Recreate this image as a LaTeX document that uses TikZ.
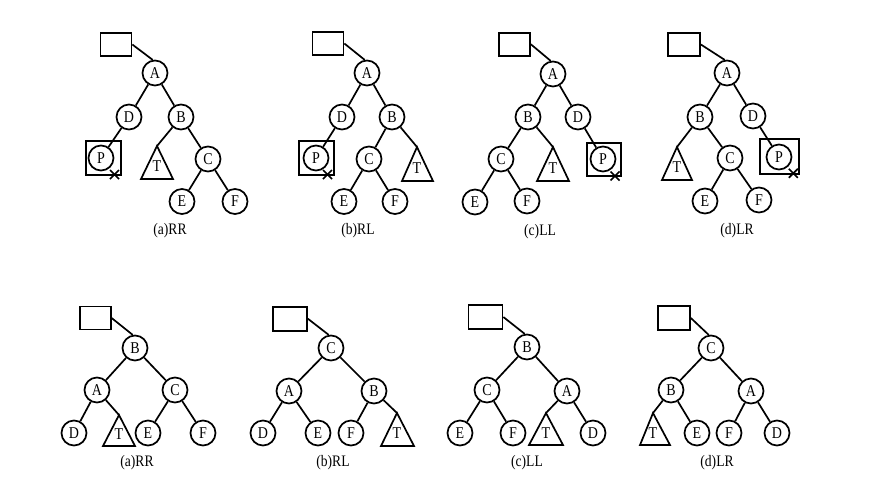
\documentclass[tikz,border=0pt]{standalone}
\usepackage{fontspec}
\setmainfont{Liberation Serif}
\newcommand{\narrowtxt}[1]{\scalebox{0.85}[1]{#1}}
\tikzset{
  nd/.style={circle,draw,line width=1.7pt,minimum size=25pt,inner sep=0pt,font=\fontsize{16.5}{16.5}\selectfont},
  rootbox/.style={rectangle,draw,line width=1.7pt,minimum width=31pt,minimum height=23pt,inner sep=0pt},
  pbox/.style={rectangle,draw,line width=1.7pt,inner sep=0pt},
  lnk/.style={line width=1.7pt},
  tri/.style={line width=1.7pt,line join=miter},
  tlabel/.style={font=\fontsize{16.5}{16.5}\selectfont,inner sep=0pt},
  captxt/.style={font=\fontsize{16}{16}\selectfont,inner sep=0pt},
}
\begin{document}
\begin{tikzpicture}[x=1pt,y=-1pt]
\useasboundingbox[fill=white] (0,0) rectangle (885,491);

% ---------- top (a) RR ----------
\node[rootbox] (a1r) at (116,44.5) {};
\node[nd] (a1A) at (155,73) {\narrowtxt{A}};
\node[nd] (a1D) at (129,117) {\narrowtxt{D}};
\node[nd] (a1B) at (181,117) {\narrowtxt{B}};
\node[nd] (a1P) at (101,158) {\narrowtxt{P}};
\node[pbox,minimum width=35pt,minimum height=34pt] (a1Pb) at (103.5,158) {};
\node[nd] (a1C) at (208,159) {\narrowtxt{C}};
\node[nd] (a1E) at (182,201.5) {\narrowtxt{E}};
\node[nd] (a1F) at (235,201.5) {\narrowtxt{F}};
\coordinate (a1Ta) at (157,146);
\draw[tri] (a1Ta) -- (173,179) -- (141,179) -- cycle;
\node[tlabel] (a1T) at (157,166.5) {\narrowtxt{T}};
\draw[lnk] (a1r.east) -- (a1A.100);
\draw[lnk] (a1A) -- (a1D);
\draw[lnk] (a1A) -- (a1B);
\draw[lnk] (a1D) -- (a1P);
\draw[lnk] (a1B) -- (a1Ta);
\draw[lnk] (a1B) -- (a1C);
\draw[lnk] (a1C) -- (a1E);
\draw[lnk] (a1C) -- (a1F);
\coordinate (a1x) at (114.5,174.5);
\draw[lnk] ([shift={(-4.5,-4.5)}]a1x) -- ([shift={(4.5,4.5)}]a1x);
\draw[lnk] ([shift={(-4.5,4.5)}]a1x) -- ([shift={(4.5,-4.5)}]a1x);
\node[captxt] (a1cap) at (170,231) {\narrowtxt{(a)RR}};

% ---------- top (b) RL ----------
\node[rootbox] (b1r) at (328,43.5) {};
\node[nd] (b1A) at (367,73) {\narrowtxt{A}};
\node[nd] (b1D) at (342,117) {\narrowtxt{D}};
\node[nd] (b1B) at (392,117) {\narrowtxt{B}};
\node[nd] (b1P) at (316,158) {\narrowtxt{P}};
\node[pbox,minimum width=35pt,minimum height=34pt] (b1Pb) at (316.5,158) {};
\node[nd] (b1C) at (369,159) {\narrowtxt{C}};
\node[nd] (b1E) at (344,201.5) {\narrowtxt{E}};
\node[nd] (b1F) at (395,201.5) {\narrowtxt{F}};
\coordinate (b1Ta) at (417,147);
\draw[tri] (b1Ta) -- (433,181) -- (402,181) -- cycle;
\node[tlabel] (b1T) at (417,168) {\narrowtxt{T}};
\draw[lnk] (b1r.east) -- (b1A.100);
\draw[lnk] (b1A) -- (b1D);
\draw[lnk] (b1A) -- (b1B);
\draw[lnk] (b1D) -- (b1P);
\draw[lnk] (b1B) -- (b1C);
\draw[lnk] (b1B) -- (b1Ta);
\draw[lnk] (b1C) -- (b1E);
\draw[lnk] (b1C) -- (b1F);
\coordinate (b1x) at (327.5,174.5);
\draw[lnk] ([shift={(-4.5,-4.5)}]b1x) -- ([shift={(4.5,4.5)}]b1x);
\draw[lnk] ([shift={(-4.5,4.5)}]b1x) -- ([shift={(4.5,-4.5)}]b1x);
\node[captxt] (b1cap) at (358,231) {\narrowtxt{(b)RL}};

% ---------- top (c) LL ----------
\node[rootbox] (c1r) at (514.5,44.3) {};
\node[nd] (c1A) at (553,74) {\narrowtxt{A}};
\node[nd] (c1B) at (528,117) {\narrowtxt{B}};
\node[nd] (c1D) at (578,117) {\narrowtxt{D}};
\node[nd] (c1C) at (501,159) {\narrowtxt{C}};
\node[nd] (c1P) at (603,159) {\narrowtxt{P}};
\node[pbox,minimum width=34pt,minimum height=33pt] (c1Pb) at (604,159.5) {};
\node[nd] (c1E) at (475,202) {\narrowtxt{E}};
\node[nd] (c1F) at (527,201) {\narrowtxt{F}};
\coordinate (c1Ta) at (553,147);
\draw[tri] (c1Ta) -- (569,181) -- (537,181) -- cycle;
\node[tlabel] (c1T) at (553,168) {\narrowtxt{T}};
\draw[lnk] (c1r.east) -- (c1A.100);
\draw[lnk] (c1A) -- (c1B);
\draw[lnk] (c1A) -- (c1D);
\draw[lnk] (c1B) -- (c1C);
\draw[lnk] (c1B) -- (c1Ta);
\draw[lnk] (c1D) -- (c1P);
\draw[lnk] (c1C) -- (c1E);
\draw[lnk] (c1C) -- (c1F);
\coordinate (c1x) at (615,176);
\draw[lnk] ([shift={(-4.5,-4.5)}]c1x) -- ([shift={(4.5,4.5)}]c1x);
\draw[lnk] ([shift={(-4.5,4.5)}]c1x) -- ([shift={(4.5,-4.5)}]c1x);
\node[captxt] (c1cap) at (540,232) {\narrowtxt{(c)LL}};

% ---------- top (d) LR ----------
\node[rootbox,minimum width=32pt] (d1r) at (684,44.5) {};
\node[nd] (d1A) at (727,73) {\narrowtxt{A}};
\node[nd] (d1B) at (700,117) {\narrowtxt{B}};
\node[nd] (d1D) at (753,116) {\narrowtxt{D}};
\node[nd] (d1C) at (730,158) {\narrowtxt{C}};
\node[nd] (d1P) at (779,157) {\narrowtxt{P}};
\node[pbox,minimum width=39pt,minimum height=35pt] (d1Pb) at (779.5,156.5) {};
\node[nd] (d1E) at (705,201) {\narrowtxt{E}};
\node[nd] (d1F) at (759,200) {\narrowtxt{F}};
\coordinate (d1Ta) at (677,147);
\draw[tri] (d1Ta) -- (692,180) -- (662,180) -- cycle;
\node[tlabel] (d1T) at (677,167) {\narrowtxt{T}};
\draw[lnk] (d1r.east) -- (d1A.100);
\draw[lnk] (d1A) -- (d1B);
\draw[lnk] (d1A) -- (d1D);
\draw[lnk] (d1B) -- (d1Ta);
\draw[lnk] (d1B) -- (d1C);
\draw[lnk] (d1D) -- (d1P);
\draw[lnk] (d1C) -- (d1E);
\draw[lnk] (d1C) -- (d1F);
\coordinate (d1x) at (793.3,173.3);
\draw[lnk] ([shift={(-4.5,-4.5)}]d1x) -- ([shift={(4.5,4.5)}]d1x);
\draw[lnk] ([shift={(-4.5,4.5)}]d1x) -- ([shift={(4.5,-4.5)}]d1x);
\node[captxt] (d1cap) at (737,231) {\narrowtxt{(d)LR}};

% ---------- bottom (a) RR ----------
\node[rootbox] (a2r) at (95.3,318) {};
\node[nd] (a2B) at (135,348) {\narrowtxt{B}};
\node[nd] (a2A) at (97,390) {\narrowtxt{A}};
\node[nd] (a2C) at (175,390) {\narrowtxt{C}};
\node[nd] (a2D) at (74,433) {\narrowtxt{D}};
\node[nd] (a2E) at (148,433) {\narrowtxt{E}};
\node[nd] (a2F) at (203,433) {\narrowtxt{F}};
\coordinate (a2Ta) at (119,415);
\draw[tri] (a2Ta) -- (135,446) -- (103,446) -- cycle;
\node[tlabel] (a2T) at (119,434) {\narrowtxt{T}};
\draw[lnk] (a2r.east) -- (a2B.100);
\draw[lnk] (a2B) -- (a2A);
\draw[lnk] (a2B) -- (a2C);
\draw[lnk] (a2A) -- (a2D);
\draw[lnk] (a2A) -- (a2Ta);
\draw[lnk] (a2C) -- (a2E);
\draw[lnk] (a2C) -- (a2F);
\node[captxt] (a2cap) at (137,463) {\narrowtxt{(a)RR}};

% ---------- bottom (b) RL ----------
\node[rootbox,minimum width=34pt,minimum height=24pt] (b2r) at (290,318.7) {};
\node[nd] (b2C) at (331,348) {\narrowtxt{C}};
\node[nd] (b2A) at (289,391) {\narrowtxt{A}};
\node[nd] (b2B) at (374,391) {\narrowtxt{B}};
\node[nd] (b2D) at (263,433) {\narrowtxt{D}};
\node[nd] (b2E) at (318,433) {\narrowtxt{E}};
\node[nd] (b2F) at (351,433) {\narrowtxt{F}};
\coordinate (b2Ta) at (397,413);
\draw[tri] (b2Ta) -- (414,446) -- (381,446) -- cycle;
\node[tlabel] (b2T) at (397,433) {\narrowtxt{T}};
\draw[lnk] (b2r.east) -- (b2C.100);
\draw[lnk] (b2C) -- (b2A);
\draw[lnk] (b2C) -- (b2B);
\draw[lnk] (b2A) -- (b2D);
\draw[lnk] (b2A) -- (b2E);
\draw[lnk] (b2B) -- (b2F);
\draw[lnk] (b2B) -- (b2Ta);
\node[captxt] (b2cap) at (333,463) {\narrowtxt{(b)RL}};

% ---------- bottom (c) LL ----------
\node[rootbox,minimum width=34pt,minimum height=24pt] (c2r) at (485.5,317) {};
\node[nd] (c2B) at (527,347) {\narrowtxt{B}};
\node[nd] (c2C) at (487,390) {\narrowtxt{C}};
\node[nd] (c2A) at (567,391) {\narrowtxt{A}};
\node[nd] (c2E) at (460,433) {\narrowtxt{E}};
\node[nd] (c2F) at (513,433) {\narrowtxt{F}};
\node[nd] (c2D) at (593,433) {\narrowtxt{D}};
\coordinate (c2Ta) at (546,413);
\draw[tri] (c2Ta) -- (563,445) -- (529,445) -- cycle;
\node[tlabel] (c2T) at (546,433) {\narrowtxt{T}};
\draw[lnk] (c2r.east) -- (c2B.100);
\draw[lnk] (c2B) -- (c2C);
\draw[lnk] (c2B) -- (c2A);
\draw[lnk] (c2C) -- (c2E);
\draw[lnk] (c2C) -- (c2F);
\draw[lnk] (c2A) -- (c2Ta);
\draw[lnk] (c2A) -- (c2D);
\node[captxt] (c2cap) at (527,463) {\narrowtxt{(c)LL}};

% ---------- bottom (d) LR ----------
\node[rootbox,minimum width=32pt,minimum height=24pt] (d2r) at (674,318) {};
\node[nd] (d2C) at (711,348) {\narrowtxt{C}};
\node[nd] (d2B) at (671,390) {\narrowtxt{B}};
\node[nd] (d2A) at (751,391) {\narrowtxt{A}};
\node[nd] (d2E) at (697,433) {\narrowtxt{E}};
\node[nd] (d2F) at (729,433) {\narrowtxt{F}};
\node[nd] (d2D) at (777,433) {\narrowtxt{D}};
\coordinate (d2Ta) at (653,413);
\draw[tri] (d2Ta) -- (670,445) -- (640,445) -- cycle;
\node[tlabel] (d2T) at (653,433) {\narrowtxt{T}};
\draw[lnk] (d2r.east) -- (d2C.100);
\draw[lnk] (d2C) -- (d2B);
\draw[lnk] (d2C) -- (d2A);
\draw[lnk] (d2B) -- (d2Ta);
\draw[lnk] (d2B) -- (d2E);
\draw[lnk] (d2A) -- (d2F);
\draw[lnk] (d2A) -- (d2D);
\node[captxt] (d2cap) at (717,463) {\narrowtxt{(d)LR}};
\end{tikzpicture}
\end{document}
